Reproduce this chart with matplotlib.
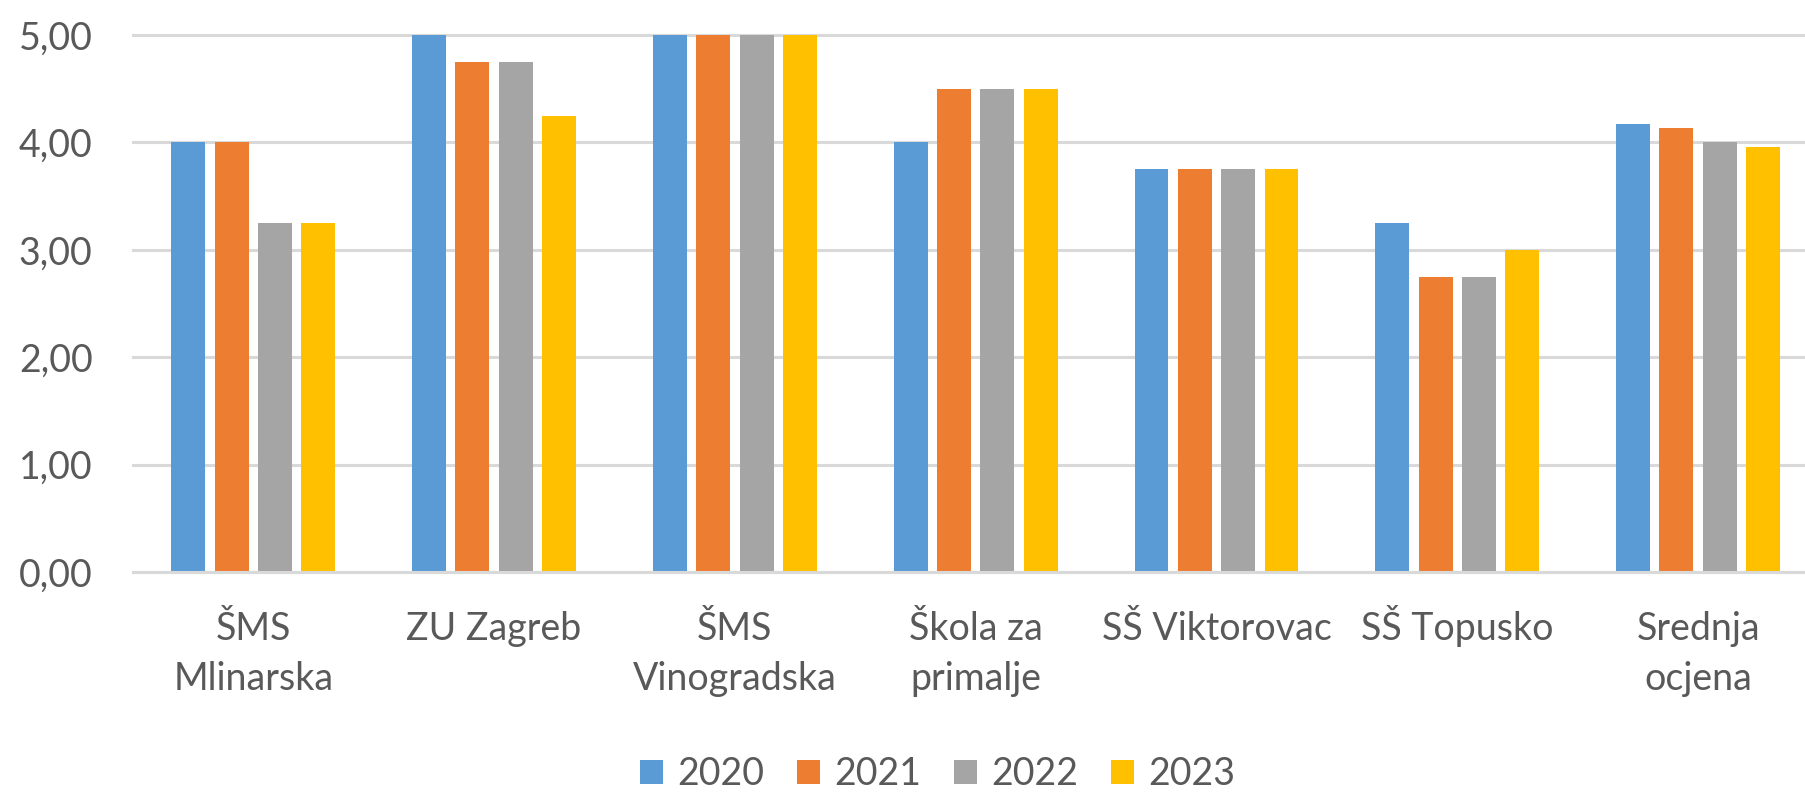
import matplotlib
matplotlib.use("Agg")
import matplotlib.pyplot as plt
import numpy as np
from matplotlib.ticker import FuncFormatter
from matplotlib.transforms import blended_transform_factory, offset_copy

categories = ["ŠMS\nMlinarska", "ZU Zagreb", "ŠMS\nVinogradska", "Škola za\nprimalje",
              "SŠ Viktorovac", "SŠ Topusko", "Srednja\nocjena"]
series_names = ["2020", "2021", "2022", "2023"]
v2020 = [4.00, 5.00, 5.00, 4.00, 3.75, 3.25, 4.17]
v2021 = [4.00, 4.75, 5.00, 4.50, 3.75, 2.75, 4.13]
v2022 = [3.25, 4.75, 5.00, 4.50, 3.75, 2.75, 4.00]
v2023 = [3.25, 4.25, 5.00, 4.50, 3.75, 3.00, 3.96]
series_values = [v2020, v2021, v2022, v2023]
colors = ["#5B9BD5", "#ED7D31", "#A5A5A5", "#FFC000"]
y_ticks = [0, 1, 2, 3, 4, 5]

plt.rcParams['font.family'] = ['Lato', 'DejaVu Sans']
text_color = "#595959"
grid_color = "#D9D9D9"
fs = 27

fig = plt.figure(figsize=(18.06, 7.92), dpi=100)
ax = fig.add_axes([132.9/1806, 1-572/792, (1818.5-132.9)/1806, (572-35)/792])

x = np.arange(len(categories))
step = 0.18
width = 0.141
for i, (name, vals, c) in enumerate(zip(series_names, series_values, colors)):
    ax.bar(x + (i - 1.5) * step, vals, width=width, color=c, label=name, zorder=3)

ax.set_xlim(-0.5, len(categories) - 0.5)
ax.set_ylim(0, 5)
ax.set_yticks(y_ticks)
ax.yaxis.set_major_formatter(FuncFormatter(lambda v, p: f"{v:.2f}".replace(".", ",")))
ax.set_xticks(x)
ax.set_xticklabels([])

ax.tick_params(axis='both', length=0, labelsize=fs, labelcolor=text_color)
ax.tick_params(axis='y', pad=29)

# category labels, each line aligned on its baseline (as in the reference)
trans = blended_transform_factory(ax.transData, ax.transAxes)
for xi, lab in zip(x, categories):
    for j, line in enumerate(lab.split("\n")):
        tr = offset_copy(trans, fig=fig, y=-(68 + 50 * j), units='dots')
        ax.text(xi, 0, line, transform=tr, ha='center', va='baseline',
                fontsize=fs, color=text_color)

ax.yaxis.grid(True, color=grid_color, linewidth=2.2, zorder=0)
ax.set_axisbelow(True)
for gl in ax.get_ygridlines():
    gl.set_clip_on(False)
for s in ["top", "right", "left"]:
    ax.spines[s].set_visible(False)
ax.spines["bottom"].set_color(grid_color)
ax.spines["bottom"].set_linewidth(2.2)
ax.spines["bottom"].set_zorder(4)

fig.legend(loc="center", bbox_to_anchor=(937.5/1806, 1-774/792), ncol=4, frameon=False,
           fontsize=fs, labelcolor=text_color, handlelength=0.62, handleheight=0.62,
           handletextpad=0.37, columnspacing=0.88, borderpad=0, borderaxespad=0)

fig.savefig("out.png", dpi=100)
